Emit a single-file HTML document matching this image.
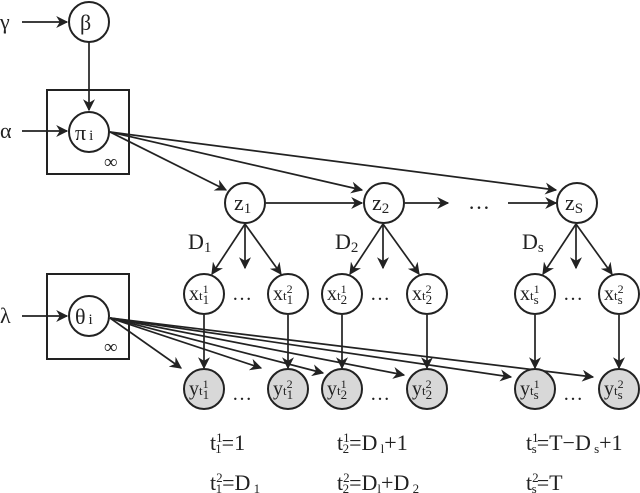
<!DOCTYPE html>
<html><head><style>
html,body{margin:0;padding:0;background:#fff;}
svg{display:block;font-family:"Liberation Serif",serif;}
</style></head><body>
<svg width="640" height="493" viewBox="0 0 640 493" xmlns="http://www.w3.org/2000/svg">
<defs>
<marker id="a" viewBox="0 0 10 10" refX="9" refY="5" markerWidth="13" markerHeight="12" markerUnits="userSpaceOnUse" orient="auto">
<path d="M0,0 L10,5 L0,10 L3,5 z" fill="#222"/></marker>
</defs>
<g stroke="#222" stroke-width="2" fill="none">
<rect x="47" y="90" width="82" height="84"/>
<rect x="47" y="274" width="82" height="85"/>
</g>
<g stroke="#222" stroke-width="1.7" fill="none" marker-end="url(#a)">
<line x1="22" y1="22" x2="67" y2="22"/>
<line x1="89" y1="42" x2="89" y2="110"/>
<line x1="22" y1="131" x2="67" y2="131"/>
<line x1="22" y1="316" x2="67" y2="316"/>
<line x1="110" y1="132" x2="226" y2="190"/>
<line x1="110" y1="132" x2="362" y2="190"/>
<line x1="110" y1="132" x2="556" y2="190"/>
<line x1="266" y1="203" x2="362" y2="203"/>
<line x1="405" y1="203" x2="448" y2="203"/>
<line x1="508" y1="203" x2="556" y2="203"/>
<line x1="245" y1="224" x2="212" y2="274"/><line x1="245" y1="224" x2="245" y2="268"/><line x1="245" y1="224" x2="281" y2="274"/>
<line x1="383" y1="224" x2="350" y2="274"/><line x1="383" y1="224" x2="383" y2="268"/><line x1="383" y1="224" x2="419" y2="274"/>
<line x1="576" y1="224" x2="543" y2="274"/><line x1="576" y1="224" x2="576" y2="268"/><line x1="576" y1="224" x2="612" y2="274"/>
<line x1="204" y1="315" x2="204" y2="368"/>
<line x1="288" y1="315" x2="288" y2="368"/>
<line x1="342" y1="315" x2="342" y2="368"/>
<line x1="427" y1="315" x2="427" y2="368"/>
<line x1="535" y1="315" x2="535" y2="368"/>
<line x1="619" y1="315" x2="619" y2="368"/>
<line x1="110" y1="318" x2="181" y2="368"/>
<line x1="110" y1="318" x2="261" y2="368"/>
<line x1="110" y1="318" x2="323" y2="373"/>
<line x1="110" y1="318" x2="404" y2="375"/>
<line x1="110" y1="318" x2="511" y2="377"/>
<line x1="110" y1="318" x2="593" y2="377"/>
</g>
<g stroke="#222" stroke-width="2" fill="#fff">
<circle cx="89" cy="22" r="20"/>
<circle cx="89" cy="132" r="20"/>
<circle cx="89" cy="316" r="20"/>
<circle cx="245" cy="203" r="20"/>
<circle cx="384" cy="203" r="20"/>
<circle cx="577" cy="203" r="20"/>
<circle cx="204" cy="294" r="20"/><circle cx="288" cy="294" r="20"/>
<circle cx="342" cy="294" r="20"/><circle cx="427" cy="294" r="20"/>
<circle cx="535" cy="294" r="20"/><circle cx="619" cy="294" r="20"/>
</g>
<g stroke="#222" stroke-width="2" fill="#d8d8d8">
<circle cx="204" cy="389" r="20"/><circle cx="288" cy="389" r="20"/>
<circle cx="342" cy="389" r="20"/><circle cx="427" cy="389" r="20"/>
<circle cx="535" cy="389" r="20"/><circle cx="619" cy="389" r="20"/>
</g>
<g fill="#222" font-size="22">
<text x="0" y="29">γ</text>
<text x="0" y="138">α</text>
<text x="0" y="323">λ</text>
<text x="80" y="30">β</text>
<text x="75" y="140">π<tspan font-size="15" dx="3">i</tspan></text>
<text x="75" y="324">θ<tspan font-size="15" dx="3">i</tspan></text>
<text x="104" y="168" font-size="19">∞</text>
<text x="104" y="353" font-size="19">∞</text>
<text x="234" y="210">z<tspan font-size="15" dy="3">1</tspan></text>
<text x="372" y="210">z<tspan font-size="15" dy="3">2</tspan></text>
<text x="565" y="210">z<tspan font-size="15" dy="3">S</tspan></text>
<text x="468" y="209">…</text>
<text x="188" y="249">D<tspan font-size="15" dy="3">1</tspan></text>
<text x="335" y="249">D<tspan font-size="15" dy="3">2</tspan></text>
<text x="522" y="249">D<tspan font-size="15" dy="3">s</tspan></text>
</g>
<g fill="#222" font-size="20">
<text x="189" y="300">x<tspan font-size="13">t</tspan><tspan font-size="12" dy="-7">1</tspan><tspan font-size="13" dy="11" dx="-6">1</tspan></text>
<text x="273" y="300">x<tspan font-size="13">t</tspan><tspan font-size="12" dy="-7">2</tspan><tspan font-size="13" dy="11" dx="-6">1</tspan></text>
<text x="327" y="300">x<tspan font-size="13">t</tspan><tspan font-size="12" dy="-7">1</tspan><tspan font-size="13" dy="11" dx="-6">2</tspan></text>
<text x="412" y="300">x<tspan font-size="13">t</tspan><tspan font-size="12" dy="-7">2</tspan><tspan font-size="13" dy="11" dx="-6">2</tspan></text>
<text x="520" y="300">x<tspan font-size="13">t</tspan><tspan font-size="12" dy="-7">1</tspan><tspan font-size="13" dy="11" dx="-6">s</tspan></text>
<text x="604" y="300">x<tspan font-size="13">t</tspan><tspan font-size="12" dy="-7">2</tspan><tspan font-size="13" dy="11" dx="-6">s</tspan></text>
<text x="189" y="395">y<tspan font-size="13">t</tspan><tspan font-size="12" dy="-7">1</tspan><tspan font-size="13" dy="11" dx="-6">1</tspan></text>
<text x="273" y="395">y<tspan font-size="13">t</tspan><tspan font-size="12" dy="-7">2</tspan><tspan font-size="13" dy="11" dx="-6">1</tspan></text>
<text x="327" y="395">y<tspan font-size="13">t</tspan><tspan font-size="12" dy="-7">1</tspan><tspan font-size="13" dy="11" dx="-6">2</tspan></text>
<text x="412" y="395">y<tspan font-size="13">t</tspan><tspan font-size="12" dy="-7">2</tspan><tspan font-size="13" dy="11" dx="-6">2</tspan></text>
<text x="520" y="395">y<tspan font-size="13">t</tspan><tspan font-size="12" dy="-7">1</tspan><tspan font-size="13" dy="11" dx="-6">s</tspan></text>
<text x="604" y="395">y<tspan font-size="13">t</tspan><tspan font-size="12" dy="-7">2</tspan><tspan font-size="13" dy="11" dx="-6">s</tspan></text>
<text x="232" y="300">…</text><text x="370" y="300">…</text><text x="563" y="300">…</text>
<text x="232" y="400">…</text><text x="370" y="400">…</text><text x="563" y="400">…</text>
</g>
<g fill="#222" font-size="22">
<text x="210" y="450">t<tspan font-size="13" dy="-8">1</tspan><tspan font-size="13" dy="11" dx="-7">1</tspan><tspan dy="-3">=1</tspan></text>
<text x="337" y="450">t<tspan font-size="13" dy="-8">1</tspan><tspan font-size="13" dy="11" dx="-7">2</tspan><tspan dy="-3">=D</tspan><tspan font-size="13" dy="3"> l</tspan><tspan dy="-3">+1</tspan></text>
<text x="526" y="450">t<tspan font-size="13" dy="-8">1</tspan><tspan font-size="13" dy="11" dx="-7">s</tspan><tspan dy="-3">=T−D</tspan><tspan font-size="13" dy="3"> s</tspan><tspan dy="-3">+1</tspan></text>
<text x="210" y="490">t<tspan font-size="13" dy="-8">2</tspan><tspan font-size="13" dy="11" dx="-7">1</tspan><tspan dy="-3">=D</tspan><tspan font-size="13" dy="3"> 1</tspan></text>
<text x="337" y="490">t<tspan font-size="13" dy="-8">2</tspan><tspan font-size="13" dy="11" dx="-7">2</tspan><tspan dy="-3">=D</tspan><tspan font-size="13" dy="3">l</tspan><tspan dy="-3">+D</tspan><tspan font-size="13" dy="3"> 2</tspan></text>
<text x="526" y="490">t<tspan font-size="13" dy="-8">2</tspan><tspan font-size="13" dy="11" dx="-7">s</tspan><tspan dy="-3">=T</tspan></text>
</g>
</svg>
</body></html>
